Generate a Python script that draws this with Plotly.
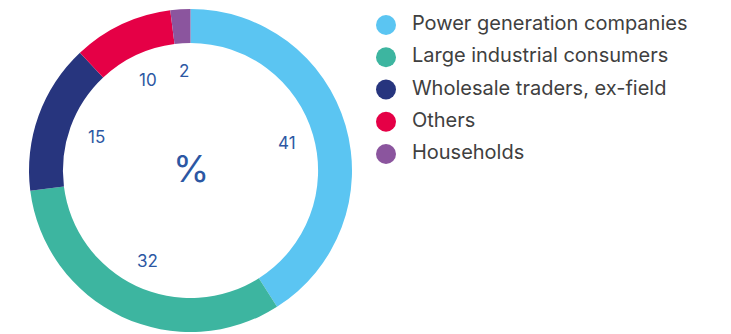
import math
import plotly.graph_objects as go

categories = ["Power generation companies", "Large industrial consumers",
              "Wholesale traders, ex-field", "Others", "Households"]
values = [41, 32, 15, 10, 2]
colors = ["#5BC5F2", "#3DB5A0", "#27357E", "#E50046", "#8B559E"]

W, H = 731, 334
FONT = "Inter"
# pie domain in paper coordinates
dx0, dx1 = 29 / W, 352 / W
dy0, dy1 = 2 / H, 325 / H
cx = (dx0 + dx1) / 2 * W
cy = H - (dy0 + dy1) / 2 * H
R = min((dx1 - dx0) * W, (dy1 - dy0) * H) / 2
label_r = R * 0.62

fig = go.Figure()
fig.add_trace(go.Pie(
    labels=categories, values=values, sort=False, direction="clockwise",
    rotation=0, hole=0.79, marker=dict(colors=colors, line=dict(width=0)),
    textinfo="none", hoverinfo="label+value", showlegend=False,
    domain=dict(x=[dx0, dx1], y=[dy0, dy1]),
))

# value labels inside the hole, at each slice's mid angle
total = sum(values)
cum = 0
annotations = []
for v in values:
    mid = (cum + v / 2) / total * 2 * math.pi
    cum += v
    px = cx + label_r * math.sin(mid)
    py = cy - label_r * math.cos(mid)
    annotations.append(dict(
        x=px / W, y=1 - py / H, xref="paper", yref="paper", text=str(v),
        showarrow=False, font=dict(size=17, color="#2C57A3", family=FONT),
        xanchor="center", yanchor="middle"))
annotations.append(dict(
    x=cx / W, y=1 - cy / H, xref="paper", yref="paper", text="%",
    showarrow=False, font=dict(size=37, color="#2C57A3", family=FONT),
    xanchor="center", yanchor="middle", yshift=2))

# legend drawn as a scatter on its own axes
idx = list(range(len(categories)))
fig.add_trace(go.Scatter(
    x=[0] * len(categories), y=idx, mode="markers",
    marker=dict(size=20, color=colors), hoverinfo="skip", showlegend=False,
    xaxis="x", yaxis="y", cliponaxis=False,
))
fig.add_trace(go.Scatter(
    x=[0.74] * len(categories), y=idx, mode="text", text=categories,
    textposition="middle right", hoverinfo="skip", showlegend=False,
    textfont=dict(size=20, color="#404040", family=FONT),
    xaxis="x", yaxis="y", cliponaxis=False,
))

fig.update_layout(
    width=W, height=H, margin=dict(l=0, r=0, t=0, b=0),
    paper_bgcolor="white", plot_bgcolor="rgba(0,0,0,0)",
    annotations=annotations,
    xaxis=dict(domain=[351 / W, 1], range=[-1, 9.857], visible=False, fixedrange=True),
    yaxis=dict(domain=[0, 1], range=[9.581, -0.775], visible=False, fixedrange=True),
)

fig.write_html("out.html")
